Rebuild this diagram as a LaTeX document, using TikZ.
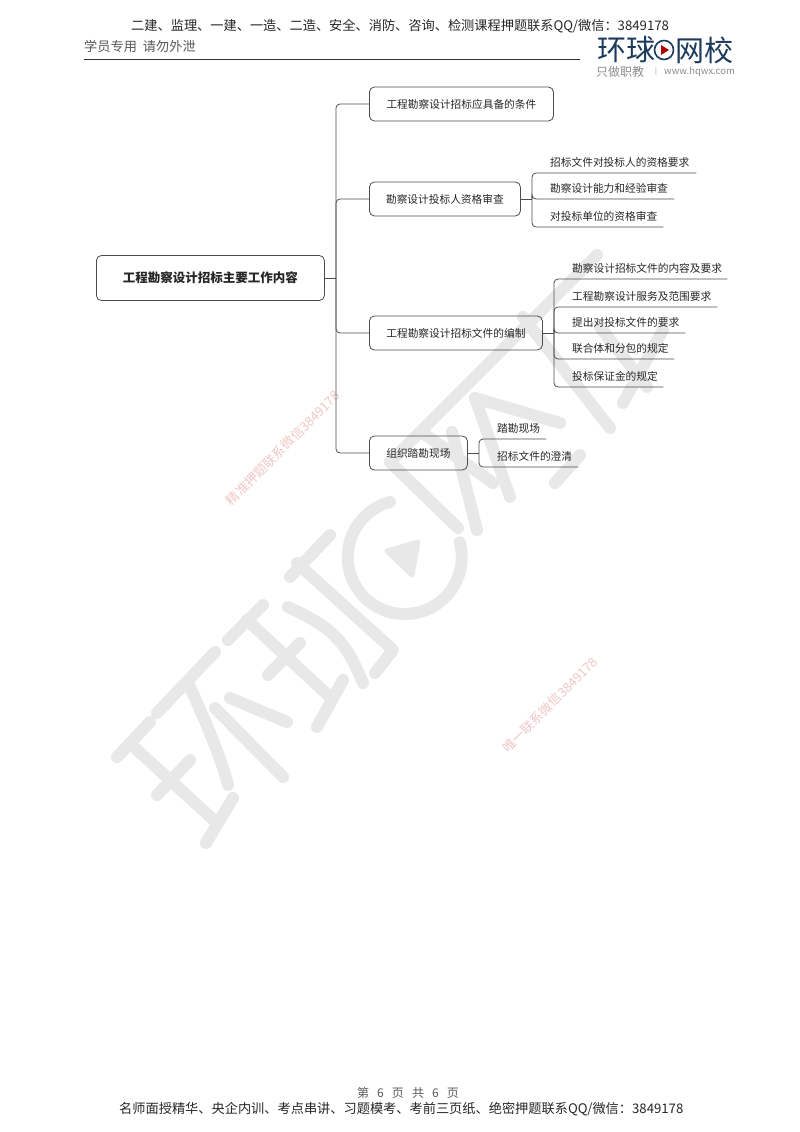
\documentclass[tikz,border=0pt]{standalone}
\usepackage{fontspec}
\usepackage{tikz}
\usetikzlibrary{positioning, calc}
\setmainfont{Noto Sans CJK SC}
\definecolor{navy}{HTML}{1B3A5C}
\definecolor{wmgray}{HTML}{E8E8E8}
\definecolor{wmpink}{HTML}{F0C6C6}

\begin{document}
\begin{tikzpicture}[
        x=1pt, y=-1pt,
        box/.style={draw=black!70, line width=0.8pt, rounded corners=5pt, inner sep=0pt, anchor=west, minimum height=34pt, font=\fontsize{10.7}{12}\selectfont, text=black!85},
        leaf/.style={inner sep=0pt, anchor=south west, minimum height=20pt, align=left, font=\fontsize{10.7}{12}\selectfont, text=black!85},
        branch/.style={draw=black!70, line width=0.8pt, rounded corners=4pt},
        wm/.style={draw=wmgray, line width=12pt, line cap=round, line join=round},
        stamp/.style={rotate=45, text=wmpink, font=\fontsize{13}{14}\selectfont},
        band/.style={anchor=west, inner sep=0pt, font=\fontsize{13.2}{14}\selectfont, text=black!85}
    ]
        \useasboundingbox (0,0) rectangle (800,1132);

        % Watermark
        \draw[wm] (117,757) -- (150,722);
        \draw[wm] (157,713) -- (215,652);
        \draw[wm] (135,748) -- (217,823);
        \draw[wm] (206,843) -- (233,798);
        \draw[wm] (157,795) -- (190,760);
        \draw[wm] (190,687) .. controls (205,720) and (222,760) .. (228,785);
        \draw[wm] (215,708) -- (283,777);
        \draw[wm] (230,698) -- (287,722);
        \draw[wm] (228,640) -- (263,605);
        \draw[wm] (247,620) -- (330,697);
        \draw[wm] (317,727) -- (343,680);
        \draw[wm] (268,675) -- (300,643);
        \draw[wm] (290,577) -- (330,535);
        \draw[wm] (297,563) -- (393,650) -- (375,673);
        \draw[wm] (288,607) .. controls (333,628) and (345,640) .. (363,683);
        \draw[wm] (390,502) arc[start angle=-105, end angle=-375, radius=57];
        \fill[wmgray, draw=wmgray, line width=5pt, line join=round] (387,551) -- (418,542) -- (412,575) -- cycle;
        % second half of the mark
        \draw[wm] (390,462) -- (597,255);
        \draw[wm] (390,462) -- (458,528);
        \draw[wm] (452,432) -- (477,530);
        \draw[wm] (475,398) -- (510,497);
        \draw[wm] (423,433) -- (493,483);
        \draw[wm] (475,398) -- (560,423);
        \draw[wm] (523,317) -- (610,428);
        \draw[wm] (555,483) -- (580,455);
        \draw[wm] (623,403) -- (663,330);
        \draw[wm] (600,327) -- (647,387);
        \node[stamp] (stampa) at (283,448) {精准押题联系微信3849178};
        \node[stamp] (stampb) at (550,705) {唯一联系微信3849178};

        % Header
        \node[band] (head) at (131,26) {二建、监理、一建、一造、二造、安全、消防、咨询、检测课程押题联系QQ/微信：3849178};
        \node[band, text=black!65] (pupil) at (84,46) {学员专用~~请勿外泄};
        \coordinate (rulea) at (84,59);
        \coordinate (ruleb) at (580,59);
        \draw[black!80, line width=0.8pt] (rulea) -- (ruleb);

        % Logo
        \node[anchor=west, inner sep=0pt, text=navy, font=\fontsize{29}{30}\selectfont] (logoa) at (597,50) {环球};
        \node[anchor=west, inner sep=0pt, text=navy, font=\fontsize{29}{30}\selectfont] (logob) at (675,50) {网校};
        \draw[navy, line width=1.6pt] (664,50) circle[radius=9.5];
        \fill[red!70!black] (661,45) -- (669,50) -- (661,55) -- cycle;
        \node[anchor=west, inner sep=0pt, text=black!45, font=\fontsize{12}{13}\selectfont] (slogan) at (596,72) {只做职教};
        \node[anchor=west, inner sep=0pt, text=black!45, font=\fontsize{7}{8}\selectfont] (slogbar) at (655,72) {|};
        \node[anchor=west, inner sep=0pt, text=black!45, font=\fontsize{9.5}{11}\selectfont] (slogweb) at (664,72) {www.hqwx.com};

        % Root and branches
        \node[box, minimum width=228pt, minimum height=45pt, font=\bfseries\fontsize{12.5}{14}\selectfont] (root) at (96,278) {工程勘察设计招标主要工作内容};
        \coordinate (spine) at (336,278);
        \node[box, minimum width=184pt] (b1) at (369,104) {工程勘察设计招标应具备的条件};
        \node[box, minimum width=151pt] (b2) at (369,199) {勘察设计投标人资格审查};
        \node[box, minimum width=173pt] (b3) at (369,333) {工程勘察设计招标文件的编制};
        \node[box, minimum width=98pt] (b4) at (369,453) {组织踏勘现场};
        \draw[branch] (root.east) -- (spine);
        \foreach \i in {1,2,3,4} { \draw[branch] (spine) |- (b\i.west); }

        % Group 2
        \coordinate (j2) at (532,199);
        \draw[branch] (b2.east) -- (j2);
        \foreach \i/\y/\w/\t in {1/173/146/招标文件对投标人的资格要求, 2/199/124/勘察设计能力和经验审查, 3/227/113/对投标单位的资格审查} {
            \node[leaf, text width=\w pt] (l2\i) at (550,\y) {\t};
            \draw[branch] (j2) |- (l2\i.south west) -- (l2\i.south east);
        }
        % Group 3
        \coordinate (j3) at (554,333);
        \draw[branch] (b3.east) -- (j3);
        \foreach \i/\y/\w/\t in {1/279/155/勘察设计招标文件的内容及要求, 2/307/145/工程勘察设计服务及范围要求, 3/333/113/提出对投标文件的要求, 4/359/102/联合体和分包的规定, 5/387/91/投标保证金的规定} {
            \node[leaf, text width=\w pt] (l3\i) at (572,\y) {\t};
            \draw[branch] (j3) |- (l3\i.south west) -- (l3\i.south east);
        }
        % Group 4
        \coordinate (j4) at (479,453);
        \draw[branch] (b4.east) -- (j4);
        \foreach \i/\y/\w/\t in {1/439/49/踏勘现场, 2/467/81/招标文件的澄清} {
            \node[leaf, text width=\w pt] (l4\i) at (497,\y) {\t};
            \draw[branch] (j4) |- (l4\i.south west) -- (l4\i.south east);
        }

        % Footer
        \node[font=\fontsize{12}{13}\selectfont, text=black!65] (page) at (408,1093) {第~~~6~~~页~~~共~~~6~~~页};
        \node[band] (foot) at (119,1109) {名师面授精华、央企内训、考点串讲、习题模考、考前三页纸、绝密押题联系QQ/微信：3849178};
    \end{tikzpicture}
\end{document}
